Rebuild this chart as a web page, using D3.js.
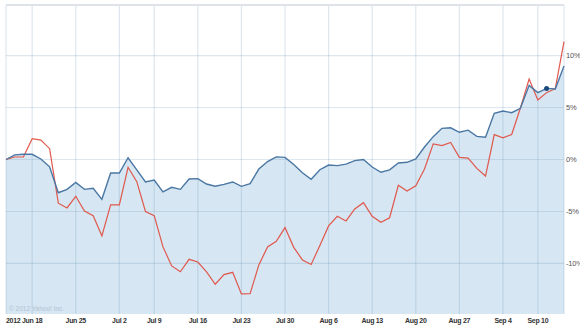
<!DOCTYPE html>
<html>
<head>
<meta charset="utf-8">
<script src="https://cdn.jsdelivr.net/npm/d3@7"></script>
<style>
  body { margin: 0; background: #fff; }
  svg { display: block; }
</style>
</head>
<body>
<div id="chart"></div>
<script>
const width = 580;
const height = 328;

// trading days shown on the chart
const dates = [
  "2012-06-13", "2012-06-14", "2012-06-15",
  "2012-06-18", "2012-06-19", "2012-06-20", "2012-06-21", "2012-06-22",
  "2012-06-25", "2012-06-26", "2012-06-27", "2012-06-28", "2012-06-29",
  "2012-07-02", "2012-07-03", "2012-07-05", "2012-07-06",
  "2012-07-09", "2012-07-10", "2012-07-11", "2012-07-12", "2012-07-13",
  "2012-07-16", "2012-07-17", "2012-07-18", "2012-07-19", "2012-07-20",
  "2012-07-23", "2012-07-24", "2012-07-25", "2012-07-26", "2012-07-27",
  "2012-07-30", "2012-07-31", "2012-08-01", "2012-08-02", "2012-08-03",
  "2012-08-06", "2012-08-07", "2012-08-08", "2012-08-09", "2012-08-10",
  "2012-08-13", "2012-08-14", "2012-08-15", "2012-08-16", "2012-08-17",
  "2012-08-20", "2012-08-21", "2012-08-22", "2012-08-23", "2012-08-24",
  "2012-08-27", "2012-08-28", "2012-08-29", "2012-08-30", "2012-08-31",
  "2012-09-04", "2012-09-05", "2012-09-06", "2012-09-07",
  "2012-09-10", "2012-09-11", "2012-09-12", "2012-09-13"
];

// % change, main series (blue area)
const mainSeries = [
  0.0, 0.45, 0.5, 0.5, 0.05, -0.7, -3.2, -2.87, -2.2, -2.87,
  -2.77, -3.83, -1.3, -1.3, 0.17, -1.0, -2.15, -1.97, -3.12, -2.68,
  -2.87, -1.87, -1.84, -2.36, -2.57, -2.39, -2.16, -2.58, -2.32, -0.92,
  -0.2, 0.25, 0.2, -0.48, -1.27, -1.9, -0.98, -0.53, -0.59, -0.45,
  -0.11, 0.0, -0.72, -1.23, -1.0, -0.34, -0.27, 0.05, 1.2, 2.2,
  3.0, 3.05, 2.62, 2.82, 2.22, 2.15, 4.44, 4.66, 4.5, 4.92,
  7.13, 6.43, 6.84, 6.78, 9.0
];

// % change, comparison series (red line)
const compSeries = [
  0.0, 0.24, 0.24, 2.0, 1.87, 1.04, -4.2, -4.66, -3.54, -4.95,
  -5.4, -7.36, -4.37, -4.37, -0.75, -2.13, -5.0, -5.4, -8.38, -10.24,
  -10.8, -9.6, -9.86, -10.8, -12.0, -11.07, -10.85, -12.93, -12.9, -10.14,
  -8.41, -7.87, -6.55, -8.45, -9.66, -10.1, -8.28, -6.39, -5.46, -5.91,
  -4.76, -4.15, -5.46, -6.03, -5.6, -2.48, -3.03, -2.52, -0.92, 1.5,
  1.33, 1.63, 0.21, 0.13, -0.85, -1.59, 2.39, 2.08, 2.41, 4.95,
  7.74, 5.72, 6.43, 6.81, 11.33
];

const xTickDates = ["2012-06-18", "2012-06-25", "2012-07-02", "2012-07-09", "2012-07-16",
  "2012-07-23", "2012-07-30", "2012-08-06", "2012-08-13", "2012-08-20",
  "2012-08-27", "2012-09-04", "2012-09-10"];
const xTickLabels = ["Jun 18", "Jun 25", "Jul 2", "Jul 9", "Jul 16", "Jul 23", "Jul 30",
  "Aug 6", "Aug 13", "Aug 20", "Aug 27", "Sep 4", "Sep 10"];
const yTicks = [10, 5, 0, -5, -10];

const markerDate = "2012-09-11";

const plotLeft = 6, plotRight = 564, plotTop = 5, plotBottom = 314;

const x = d3.scalePoint().domain(dates).range([plotLeft, plotRight]);
const y = d3.scaleLinear().domain([-14.86, 14.86]).range([plotBottom, plotTop]);

const svg = d3.select("#chart").append("svg")
  .attr("width", width)
  .attr("height", height);

const rows = dates.map((d, i) => ({ date: d, main: mainSeries[i], comp: compSeries[i] }));

// filled area under main series
svg.append("path")
  .datum(rows)
  .attr("fill", "#d6e6f2")
  .attr("d", d3.area().x(d => x(d.date)).y0(plotBottom).y1(d => y(d.main)));

// grid
const grid = svg.append("g").attr("stroke", "rgba(120,160,190,0.25)").attr("stroke-width", 1.2);
grid.selectAll("line.v")
  .data(xTickDates)
  .enter().append("line")
  .attr("x1", d => x(d)).attr("x2", d => x(d))
  .attr("y1", plotTop).attr("y2", plotBottom);
grid.selectAll("line.h")
  .data(yTicks)
  .enter().append("line")
  .attr("x1", plotLeft).attr("x2", plotRight)
  .attr("y1", d => y(d)).attr("y2", d => y(d));
grid.append("line").attr("x1", plotLeft).attr("x2", plotLeft).attr("y1", plotTop).attr("y2", plotBottom);
grid.append("line").attr("x1", plotRight).attr("x2", plotRight).attr("y1", plotTop).attr("y2", plotBottom);

// top border
svg.append("line")
  .attr("x1", plotLeft).attr("x2", plotRight)
  .attr("y1", plotTop).attr("y2", plotTop)
  .attr("stroke", "#dde3e9").attr("stroke-width", 2);

// copyright
svg.append("text")
  .attr("x", 9).attr("y", 311)
  .attr("font-family", "Liberation Sans, Arial, sans-serif")
  .attr("font-size", 6.5)
  .attr("fill", "#b3c4d2")
  .text("© 2012 Yahoo! Inc.");

// lines
svg.append("path")
  .datum(rows)
  .attr("fill", "none")
  .attr("stroke", "#e0584d")
  .attr("stroke-width", 1.2)
  .attr("d", d3.line().x(d => x(d.date)).y(d => y(d.comp)));

svg.append("path")
  .datum(rows)
  .attr("fill", "none")
  .attr("stroke", "#4a77a3")
  .attr("stroke-width", 1.4)
  .attr("d", d3.line().x(d => x(d.date)).y(d => y(d.main)));

svg.append("circle")
  .attr("cx", x(markerDate))
  .attr("cy", y(mainSeries[dates.indexOf(markerDate)]))
  .attr("r", 2.5)
  .attr("fill", "#1d4a7c");

// x labels
const xAxis = svg.append("g")
  .attr("font-family", "Liberation Sans, Arial, sans-serif")
  .attr("font-size", 7)
  .attr("font-weight", "bold")
  .attr("letter-spacing", -0.3)
  .attr("fill", "#333");
xAxis.selectAll("text")
  .data(xTickDates)
  .enter().append("text")
  .attr("x", d => x(d))
  .attr("y", 323)
  .attr("text-anchor", "middle")
  .text((d, i) => xTickLabels[i]);
xAxis.append("text")
  .attr("x", 6).attr("y", 323)
  .text("2012");

// y labels
svg.append("g")
  .attr("font-family", "Liberation Sans, Arial, sans-serif")
  .attr("font-size", 7.5)
  .attr("letter-spacing", -0.2)
  .attr("fill", "#555")
  .selectAll("text")
  .data(yTicks)
  .enter().append("text")
  .attr("x", 566)
  .attr("y", d => y(d) + 2.5)
  .text(d => d + "%");
</script>
</body>
</html>
